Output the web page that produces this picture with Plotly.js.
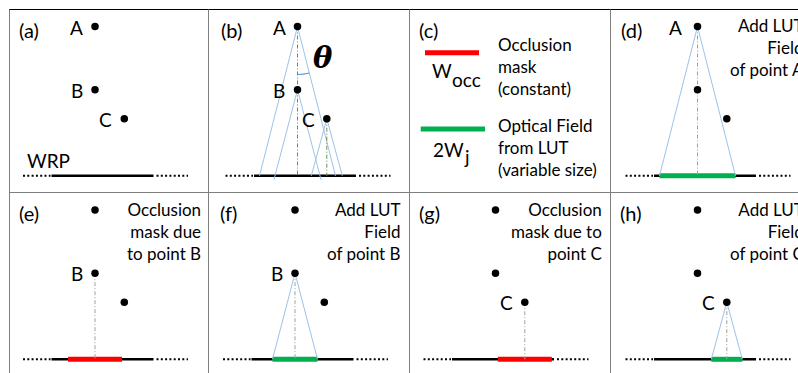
<!DOCTYPE html>
<html><head><meta charset="utf-8">
<script src="https://cdn.plot.ly/plotly-3.0.1.min.js"></script>
<style>html,body{margin:0;padding:0;background:#fff;overflow:hidden}</style>
</head><body><div id="chart" style="width:798px;height:373px"></div>
<script>
// ---------------- data ----------------
const panelIds = ['(a)','(b)','(c)','(d)','(e)','(f)','(g)','(h)'];
const pointNames = ['A','B','C'];
const pointX = [95, 95, 124.3];          // lateral position of object points
const pointY = [26.5, 89.7, 118.7];      // depth position of object points
const wrpY = 175.8;                      // wavefront recording plane
const wrpSolidSpan = [51.5, 153.5];
const wrpDotLeftSpan = [23, 50.5];
const wrpDotRightSpan = [156.5, 188];
const lutHalfWidth = [38, 22.5, 15.5];   // Wj for A, B, C (optical field = 2Wj)
const occHalfWidth = 27;                 // Wocc / 2 (constant)
const panelLabels    = [['A','B','C'],['A','B','C'],[],['A'],['B'],['B'],['C'],['C']];
const panelCones     = [[],['A','B','C'],[],['A'],[],['B'],[],['C']];
const panelVerticals = [[],['A','C'],[],['A'],['B'],['B'],['C'],['C']];
const panelField     = [null,null,null,'A',null,'B',null,'C'];
const panelMask      = [null,null,null,null,'B',null,'C',null];
const panelNotes = ['', '', '',
  'Add LUT<br>Field<br>of point A',
  'Occlusion<br>mask due<br>to point B',
  'Add LUT<br>Field<br>of point B',
  'Occlusion<br>mask due to<br>point C',
  'Add LUT<br>Field<br>of point C'];
const legendNotes = ['Occlusion<br>mask<br>(constant)', 'Optical Field<br>from LUT<br>(variable size)'];
const legendSymbols = [['W','occ'], ['2W','j']];
const wrpLabel = 'WRP';
const thetaLabel = '<i>θ</i>';

// ---------------- layout helpers ----------------
const panelDX = [0, 202.5, 400, 602.5, 0, 200, 400.5, 602.5];
const panelDY = [0, 0, 0, 0, 183.5, 183.5, 183.5, 183.5];
const FONT = 'Lato, "Open Sans", sans-serif';
const XMAX = 798;
const idx = n => pointNames.indexOf(n);

const seg = {dot:{x:[],y:[]}, solid:{x:[],y:[]}, red:{x:[],y:[]}, green:{x:[],y:[]},
             blue:{x:[],y:[]}, vb:{x:[],y:[]}, vg:{x:[],y:[]}, dots:{x:[],y:[]}};
function add(s, x0, y0, x1, y1){ s.x.push(x0, x1, null); s.y.push(y0, y1, null); }
const annotations = [];
function ann(text, x, y, opts){
  // keep the anchor inside the axis range (off-range annotations are hidden) and shift the rest
  const xs = x > XMAX - 0.5 ? x - (XMAX - 0.5) : 0;
  annotations.push(Object.assign({text, x: x - xs, xshift: xs, y, xref:'x', yref:'y', showarrow:false,
    font:{family:FONT, size:19, color:'#000'}, xanchor:'center', yanchor:'middle'}, opts||{}));
}

panelIds.forEach((pid, p) => {
  const dx = panelDX[p], dy = panelDY[p];
  ann(pid, dx + 28.5, dy + 29.5, {font:{family:FONT, size:20, color:'#000'}});
  if (p === 2) return;
  const by = wrpY + dy;
  add(seg.dot, dx + wrpDotLeftSpan[0], by, dx + wrpDotLeftSpan[1], by);
  add(seg.dot, dx + wrpDotRightSpan[0], by, dx + wrpDotRightSpan[1], by);
  add(seg.solid, dx + wrpSolidSpan[0], by, dx + wrpSolidSpan[1], by);
  if (panelMask[p]) { const i = idx(panelMask[p]);
    add(seg.red, dx + pointX[i] - occHalfWidth, by, dx + pointX[i] + occHalfWidth, by); }
  if (panelField[p]) { const i = idx(panelField[p]);
    add(seg.green, dx + pointX[i] - lutHalfWidth[i], by, dx + pointX[i] + lutHalfWidth[i], by); }
  panelCones[p].forEach(n => { const i = idx(n);
    const px = dx + pointX[i], py = dy + pointY[i];
    const extra = (p === 1 && n === 'B') ? 4 : 0;
    const k = (wrpY + extra - pointY[i]) / (wrpY - pointY[i]);
    add(seg.blue, px, py, px - lutHalfWidth[i]*k, by + extra);
    add(seg.blue, px, py, px + lutHalfWidth[i]*k, by + extra);
  });
  panelVerticals[p].forEach(n => { const i = idx(n);
    add(p === 1 ? seg.vb : seg.vg, dx + pointX[i], dy + pointY[i], dx + pointX[i], by); });
  pointNames.forEach((n, i) => { seg.dots.x.push(dx + pointX[i]); seg.dots.y.push(dy + pointY[i]); });
  panelLabels[p].forEach(n => { const i = idx(n);
    ann(n, dx + pointX[i] - (p === 3 ? 22 : 18.5), dy + pointY[i] + 0.5); });
  if (panelNotes[p]) ann(panelNotes[p], dx + 203, dy + 47.5,
      {xanchor:'right', align:'right', font:{family:FONT, size:17, color:'#000'}});
});

// panel (a): WRP label
ann(wrpLabel, panelDX[0] + 48.3, panelDY[0] + 160);
// panel (b): theta angle
const ai = idx('A'), r = 48;
const phi = Math.atan(lutHalfWidth[ai] / (wrpY - pointY[ai]));
const ax = panelDX[1] + pointX[ai], ay = panelDY[1] + pointY[ai];
const arcPath = `M ${ax} ${ay + r} Q ${ax + r*Math.tan(phi/2)} ${ay + r} ${ax + r*Math.sin(phi)} ${ay + r*Math.cos(phi)}`;
ann(thetaLabel, ax + 25.5, ay + 31.5, {font:{family:'"DejaVu Serif", serif', size:29, color:'#000', weight:'bold'}});

// panel (c): legend
const cx = panelDX[2], cy = panelDY[2];
add(seg.red, cx + 25, cy + 52.7, cx + 79, cy + 52.7);
add(seg.green, cx + 20.7, cy + 129, cx + 85, cy + 129);
ann(legendSymbols[0][0], cx + 41.5, cy + 70.5);
ann(legendSymbols[0][1], cx + 50.3, cy + 79, {xanchor:'left'});
ann(legendSymbols[1][0], cx + 48, cy + 149);
ann(legendSymbols[1][1], cx + 62.3, cy + 156, {xanchor:'left'});
ann(legendNotes[0], cx + 95.5, cy + 66.7, {xanchor:'left', align:'left', font:{family:FONT, size:17, color:'#000'}});
ann(legendNotes[1], cx + 95.5, cy + 147.7, {xanchor:'left', align:'left', font:{family:FONT, size:17, color:'#000'}});

const ln = (s, color, width, dash) => ({type:'scatter', mode:'lines', x:s.x, y:s.y, hoverinfo:'skip',
  connectgaps:false, line:{color, width, dash:dash||'solid'}, showlegend:false});
const traces = [
  ln(seg.dot, '#000', 2, '2px,2.3px'),
  ln(seg.solid, '#000', 2.5),
  ln(seg.red, '#ff0000', 5),
  ln(seg.green, '#00b050', 5),
  ln(seg.blue, '#9dc3e6', 1),
  ln(seg.vb, '#6f8a5c', 1, '4px,2px,1px,2px'),
  ln(seg.vg, '#a0a0a0', 1, '4px,2px,1px,2px'),
  {type:'scatter', mode:'markers', x:seg.dots.x, y:seg.dots.y, hoverinfo:'skip', showlegend:false,
   marker:{color:'#000', size:7.5}}
];

const gridColor = '#7f7f7f';
const shapes = [
  {type:'line', xref:'x', yref:'y', x0:9, x1:798, y0:9.5, y1:9.5, line:{color:'#000', width:1}},
  {type:'line', xref:'x', yref:'y', x0:9, x1:798, y0:192.5, y1:192.5, line:{color:gridColor, width:1}},
  ...[9.5, 208.5, 409.5, 610.5].map(x => ({type:'line', xref:'x', yref:'y', x0:x, x1:x, y0:9.5, y1:373,
     line:{color:gridColor, width:1}})),
  {type:'path', xref:'x', yref:'y', path:arcPath, line:{color:'#5b9bd5', width:1.2}}
];

Plotly.newPlot('chart', traces, {
  width:798, height:373, margin:{l:0, r:0, t:0, b:0},
  paper_bgcolor:'#fff', plot_bgcolor:'#fff',
  xaxis:{range:[0,798], visible:false, fixedrange:true},
  yaxis:{range:[373,0], visible:false, fixedrange:true},
  showlegend:false, shapes, annotations
}, {displayModeBar:false, staticPlot:true});
</script></body></html>
